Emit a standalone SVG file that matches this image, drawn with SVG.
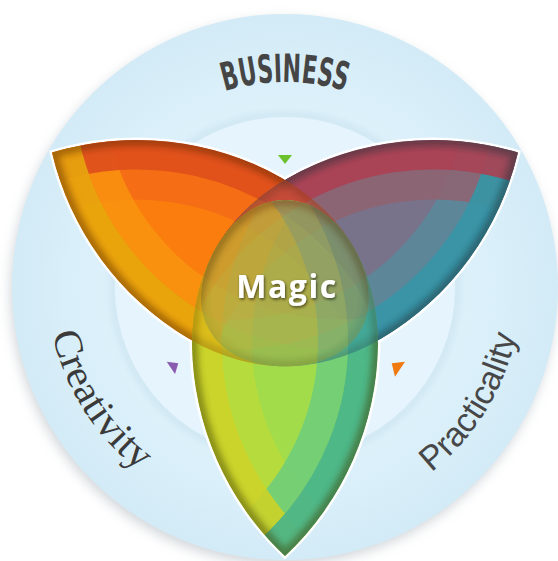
<svg xmlns="http://www.w3.org/2000/svg" xmlns:xlink="http://www.w3.org/1999/xlink" width="558" height="561" viewBox="0 0 558 561">
  <defs>
    <style>
      .band { fill: none; stroke-width: 30; }
      .rim { fill: none; stroke-width: 12; stroke-opacity: 0.45; }
      .ttl { font-family: 'DejaVu Sans Condensed', 'Liberation Sans Narrow', sans-serif; font-weight: bold; fill: #454545; }
    </style>
    <filter id="soft" x="-10%" y="-10%" width="120%" height="120%"><feGaussianBlur stdDeviation="3"/></filter>
    <filter id="blur6" x="-10%" y="-10%" width="120%" height="120%"><feGaussianBlur stdDeviation="6"/></filter>
    <filter id="ds" x="-20%" y="-30%" width="140%" height="160%"><feDropShadow dx="1" dy="1.5" stdDeviation="1.5" flood-color="#000" flood-opacity="0.6"/></filter>
    <radialGradient id="ringGrad" cx="285" cy="287" r="273" gradientUnits="userSpaceOnUse">
      <stop offset="0.6" stop-color="#def2fb"/>
      <stop offset="1" stop-color="#d3ebf7"/>
    </radialGradient>
    <path id="petal" d="M285,556 A295,295 0 0 1 192,345 A93,145 0 0 1 285,200 A93,145 0 0 1 378,345 A295,295 0 0 1 285,556 Z"/>
    <clipPath id="cL"><use xlink:href="#petal"/></clipPath>
    <clipPath id="cP"><use xlink:href="#petal" transform="rotate(-120 285 287)"/></clipPath>
    <clipPath id="cG"><use xlink:href="#petal"/></clipPath>
    <path id="pB" d="M182.5,109.5 A205,205 0 0 1 387.5,109.5"/>
    <path id="pC" d="M52.5,333.6 A234,234 0 0 0 168,489.6"/>
    <path id="pPr" d="M431.3,472.2 A236,236 0 0 0 520.1,307.6"/>
    <!-- petal details in local (tip-down) orientation -->
    <g id="dO" clip-path="url(#cL)">
      <use xlink:href="#petal" fill="#fb7d0d"/>
      <circle class="band" cx="487" cy="342" r="250" stroke="#f36a17" opacity="0.85"/>
      <circle class="band" cx="83" cy="342" r="250" stroke="#f8930f" opacity="0.85"/>
      <circle class="band" cx="487" cy="342" r="280" stroke="#dc4a1f" opacity="0.85"/>
      <circle class="band" cx="83" cy="342" r="280" stroke="#e6aa0c" opacity="0.85"/>
      <use xlink:href="#petal" class="rim" stroke="#5a2200" filter="url(#soft)"/>
    </g>
    <g id="dP" clip-path="url(#cL)">
      <use xlink:href="#petal" fill="#78738b"/>
      <circle class="band" cx="487" cy="342" r="250" stroke="#598a9b" opacity="0.85"/>
      <circle class="band" cx="83" cy="342" r="250" stroke="#8f6371" opacity="0.85"/>
      <circle class="band" cx="487" cy="342" r="280" stroke="#2f9aaa" opacity="0.85"/>
      <circle class="band" cx="83" cy="342" r="280" stroke="#b23c4c" opacity="0.85"/>
      <use xlink:href="#petal" class="rim" stroke="#1a2a30" filter="url(#soft)"/>
    </g>
    <g id="dG" clip-path="url(#cL)">
      <use xlink:href="#petal" fill="#a2dc4a"/>
      <circle class="band" cx="487" cy="342" r="250" stroke="#bada3a" opacity="0.85"/>
      <circle class="band" cx="83" cy="342" r="250" stroke="#6ccc7c" opacity="0.85"/>
      <circle class="band" cx="487" cy="342" r="280" stroke="#d2d224" opacity="0.85"/>
      <circle class="band" cx="83" cy="342" r="280" stroke="#40b292" opacity="0.85"/>
      <use xlink:href="#petal" class="rim" stroke="#3a3a00" filter="url(#soft)"/>
    </g>
  </defs>

  <rect width="558" height="561" fill="#ffffff"/>

  <g id="background">
    <circle cx="283" cy="292" r="273" fill="#a9b2b9" opacity="0.5" filter="url(#blur6)"/>
    <circle cx="285" cy="287" r="273" fill="url(#ringGrad)"/>
    <circle cx="285" cy="287" r="172" fill="none" stroke="#d0e7f3" stroke-width="8" filter="url(#soft)"/>
    <circle cx="285" cy="287" r="170" fill="#e6f5fd"/>
  </g>

  <g id="outline" fill="none" stroke="#ffffff" stroke-width="5">
    <use xlink:href="#petal" transform="rotate(120 285 287)"/>
    <use xlink:href="#petal" transform="rotate(-120 285 287)"/>
    <use xlink:href="#petal"/>
  </g>

  <g id="petals">
    <g id="OP">
      <g id="business-creativity-petal"><use xlink:href="#dO" transform="rotate(120 285 287)"/></g>
      <g id="business-practicality-petal"><use xlink:href="#dP" transform="rotate(-120 285 287)"/></g>
      <g clip-path="url(#cP)" opacity="0.5"><use xlink:href="#dO" transform="rotate(120 285 287)"/></g>
    </g>
    <g id="creativity-practicality-petal"><use xlink:href="#dG"/></g>
    <g clip-path="url(#cG)" opacity="0.48"><use xlink:href="#OP"/></g>
  </g>

  <g id="markers">
    <polygon points="278,155 292,155 285,164" fill="#6cc22e"/>
    <polygon points="166.7,361.7 178.3,363.3 175,374" fill="#8a5cb0"/>
    <polygon points="391.7,363.3 405,361.7 395,376.7" fill="#f07a10"/>
  </g>

  <g id="labels">
    <text class="ttl" font-size="39"><textPath xlink:href="#pB" startOffset="50%" text-anchor="middle" textLength="122" lengthAdjust="spacingAndGlyphs">BUSINESS</textPath></text>
    <text font-family="'Liberation Serif', serif" font-size="40" fill="#3a3a3a"><textPath xlink:href="#pC" textLength="166" lengthAdjust="spacingAndGlyphs">Creativity</textPath></text>
    <text font-family="'Liberation Sans', sans-serif" font-size="34" fill="#474747"><textPath xlink:href="#pPr" textLength="164" lengthAdjust="spacingAndGlyphs">Practicality</textPath></text>
    <text x="287" y="298" text-anchor="middle" font-family="'Open Sans', 'DejaVu Sans', sans-serif" font-weight="bold" font-size="32" letter-spacing="1.5" fill="#ffffff" filter="url(#ds)">Magic</text>
  </g>
</svg>
